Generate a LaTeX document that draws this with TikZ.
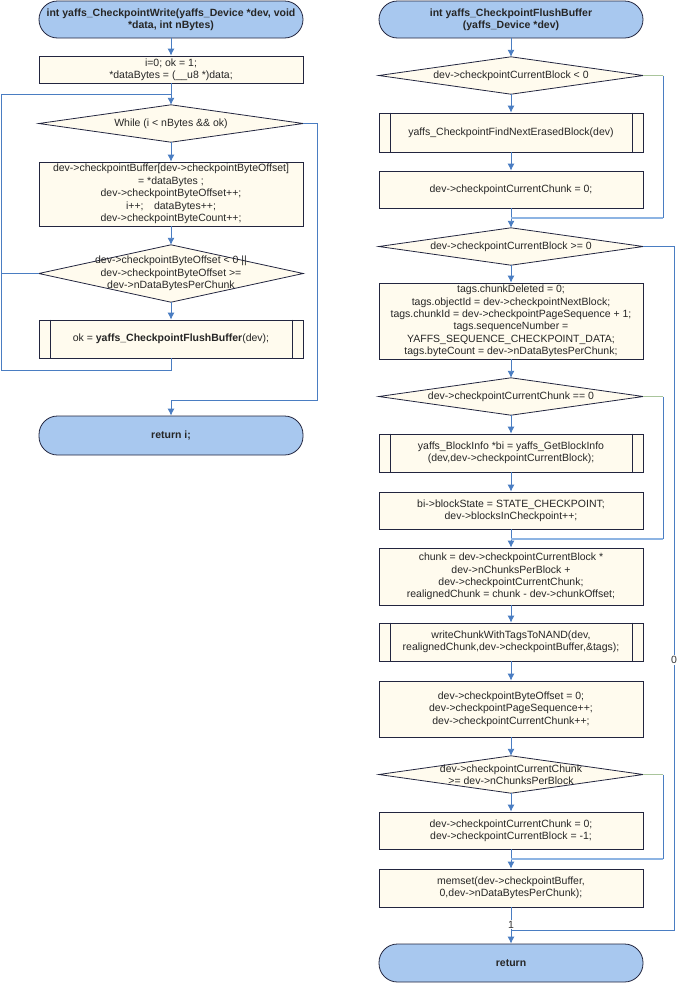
\documentclass[tikz,border=0pt]{standalone}
\usepackage{fontspec}
\setmainfont{Liberation Sans}
\usetikzlibrary{arrows.meta,backgrounds}
\definecolor{termfill}{HTML}{A8C8EF}
\definecolor{boxfill}{HTML}{FFFBEE}
\definecolor{border}{HTML}{22253F}
\definecolor{conn}{HTML}{4A7DC2}
\definecolor{lightconn}{HTML}{8DB4E3}
\definecolor{greenconn}{HTML}{A9C59C}
\tikzset{
  base/.style={shape=rectangle, inner sep=0pt, minimum width=264, align=center,
    font=\fontsize{10.5}{12.4}\selectfont, text=black!85},
  term/.style={base, draw=border, fill=termfill, rounded corners=18.5, line width=0.8pt, font=\fontsize{10.5}{12.4}\selectfont\bfseries},
  stepbox/.style={base, draw=border, fill=boxfill, line width=0.8pt},
  dia/.style={base},
  arr/.style={draw=conn, line width=0.9pt, -{Latex[length=7pt,width=7pt]}},
  ln/.style={draw=conn, line width=0.9pt},
  lnl/.style={draw=lightconn, line width=1.1pt},
  lng/.style={draw=greenconn, line width=1.1pt},
  lbl/.style={fill=white, inner sep=1pt, font=\fontsize{10.5}{12}\selectfont, text=black!80}
}
\newcommand{\diabg}[1]{\draw[draw=border, fill=boxfill, line width=0.8pt] (#1.west) -- (#1.north) -- (#1.east) -- (#1.south) -- cycle;}
\newcommand{\predef}[1]{\draw[draw=border, line width=0.8pt] ([xshift=12]#1.north west) -- ([xshift=12]#1.south west) ([xshift=-11]#1.north east) -- ([xshift=-11]#1.south east);}
\begin{document}
\begin{tikzpicture}[x=1pt,y=-1pt]
\useasboundingbox (0,0) rectangle (680,983);
% ---------------- left column
\node[term, minimum height=37] (t1) at (171,19.5) {int yaffs\_CheckpointWrite(yaffs\_Device *dev, void\\*data, int nBytes)};
\node[stepbox, minimum height=27] (b1) at (171,69.5) {i=0; ok = 1;\\*dataBytes = (\_\_u8 *)data;};
\node[dia, minimum height=37] (d1) at (171,123.5) {While (i < nBytes \&\& ok)};
\node[stepbox, minimum height=64] (b2) at (171,194) {dev->checkpointBuffer[dev->checkpointByteOffset]\\= *dataBytes ;\\dev->checkpointByteOffset++;\\i++;\quad dataBytes++;\\dev->checkpointByteCount++;};
\node[dia, minimum height=57] (d2) at (171,273.5) {dev->checkpointByteOffset < 0 ||\\dev->checkpointByteOffset >=\\dev->nDataBytesPerChunk};
\node[stepbox, minimum height=38] (b3) at (171,339) {ok = \textbf{yaffs\_CheckpointFlushBuffer}(dev);};
\node[term, minimum height=39] (t2) at (171,435.5) {return i;};
\predef{b3}
% ---------------- right column
\node[term, minimum height=37] (T1) at (511,19.5) {int yaffs\_CheckpointFlushBuffer\\(yaffs\_Device *dev)};
\node[dia, minimum height=37] (D1) at (511,75.5) {dev->checkpointCurrentBlock < 0};
\node[stepbox, minimum height=39] (P1) at (511,132.5) {yaffs\_CheckpointFindNextErasedBlock(dev)};
\node[stepbox, minimum height=37] (B1) at (511,189.5) {dev->checkpointCurrentChunk = 0;};
\node[dia, minimum height=37] (D2) at (511,246.5) {dev->checkpointCurrentBlock >= 0};
\node[stepbox, minimum height=76] (B2) at (511,321) {tags.chunkDeleted = 0;\\tags.objectId = dev->checkpointNextBlock;\\tags.chunkId = dev->checkpointPageSequence + 1;\\tags.sequenceNumber =\\YAFFS\_SEQUENCE\_CHECKPOINT\_DATA;\\tags.byteCount = dev->nDataBytesPerChunk;};
\node[dia, minimum height=37] (D3) at (511,396.5) {dev->checkpointCurrentChunk == 0};
\node[stepbox, minimum height=38] (P2) at (511,453) {yaffs\_BlockInfo *bi = yaffs\_GetBlockInfo\\(dev,dev->checkpointCurrentBlock);};
\node[stepbox, minimum height=37] (B3) at (511,510.5) {bi->blockState = STATE\_CHECKPOINT;\\dev->blocksInCheckpoint++;};
\node[stepbox, minimum height=57] (B4) at (511,576.5) {chunk = dev->checkpointCurrentBlock *\\dev->nChunksPerBlock +\\dev->checkpointCurrentChunk;\\realignedChunk = chunk - dev->chunkOffset;};
\node[stepbox, minimum height=38] (P3) at (511,642) {writeChunkWithTagsToNAND(dev,\\realignedChunk,dev->checkpointBuffer,\&tags);};
\node[stepbox, minimum height=56] (B5) at (511,709) {dev->checkpointByteOffset = 0;\\dev->checkpointPageSequence++;\\dev->checkpointCurrentChunk++;};
\node[dia, minimum height=37] (D4) at (511,774.5) {dev->checkpointCurrentChunk\\>= dev->nChunksPerBlock};
\node[stepbox, minimum height=37] (B6) at (511,830.5) {dev->checkpointCurrentChunk = 0;\\dev->checkpointCurrentBlock = -1;};
\node[stepbox, minimum height=38] (B7) at (511,888) {memset(dev->checkpointBuffer,\\0,dev->nDataBytesPerChunk);};
\node[term, minimum height=38] (T2) at (511,963) {return};
\predef{P1}
\predef{P2}
\predef{P3}
% diamonds on background
\begin{scope}[on background layer]
\diabg{d1}\diabg{d2}\diabg{D1}\diabg{D2}\diabg{D3}\diabg{D4}
\end{scope}
% ---------------- coordinates
\coordinate (lm) at (171,94);
\coordinate (lt) at (1,94);
\coordinate (lb) at (1,370);
\coordinate (lbc) at (171,370);
\coordinate (ld2) at (1,273.5);
\coordinate (re1) at (317,123.5);
\coordinate (re2) at (317,400);
\coordinate (re3) at (171,400);
\coordinate (Ra1) at (663,75.5);
\coordinate (Ra2) at (663,218);
\coordinate (Ra3) at (511,218);
\coordinate (Rb1) at (674,246.5);
\coordinate (Rb2) at (674,930);
\coordinate (Rb3) at (511,930);
\coordinate (Rc1) at (663,396.5);
\coordinate (Rc2) at (663,539);
\coordinate (Rc3) at (511,539);
\coordinate (Rd1) at (663,774.5);
\coordinate (Rd2) at (663,859);
\coordinate (Rd3) at (511,859);
% ---------------- left connectors
\draw[arr] (t1) -- (b1);
\draw[arr] (b1) -- (d1.north);
\draw[arr] (d1.south) -- (b2);
\draw[arr] (b2) -- (d2.north);
\draw[arr] (d2.south) -- (b3);
\draw[ln] (b3.south) -- (lbc) -- (lb) -- (lt) -- (lm);
\draw[ln] (d2.west) -- (ld2);
\draw[ln] (d1.east) -- (re1) -- (re2) -- (re3);
\draw[arr] (re3) -- (t2.north);
% ---------------- right connectors
\draw[arr] (T1) -- (D1.north);
\draw[arr] (D1.south) -- (P1);
\draw[arr] (P1) -- (B1);
\draw[arr] (B1) -- (D2.north);
\draw[arr] (D2.south) -- (B2);
\draw[arr] (B2) -- (D3.north);
\draw[arr] (D3.south) -- (P2);
\draw[arr] (P2) -- (B3);
\draw[arr] (B3) -- (B4);
\draw[arr] (B4) -- (P3);
\draw[arr] (P3) -- (B5);
\draw[arr] (B5) -- (D4.north);
\draw[arr] (D4.south) -- (B6);
\draw[arr] (B6) -- (B7);
\draw[arr] (B7) -- node[lbl, pos=0.47] (one) {1} (T2);
\draw[lng] (D1.east) -- (Ra1);
\draw[ln] (Ra1) -- (Ra2);
\draw[lnl] (Ra2) -- (Ra3);
\draw[lng] (D3.east) -- (Rc1);
\draw[ln] (Rc1) -- (Rc2);
\draw[lnl] (Rc2) -- (Rc3);
\draw[lng] (D4.east) -- (Rd1);
\draw[ln] (Rd1) -- (Rd2);
\draw[lnl] (Rd2) -- (Rd3);
\draw[ln] (D2.east) -- (Rb1) -- (Rb2) -- (Rb3);
\node[lbl] (zero) at (674,660) {0};
\end{tikzpicture}
\end{document}
